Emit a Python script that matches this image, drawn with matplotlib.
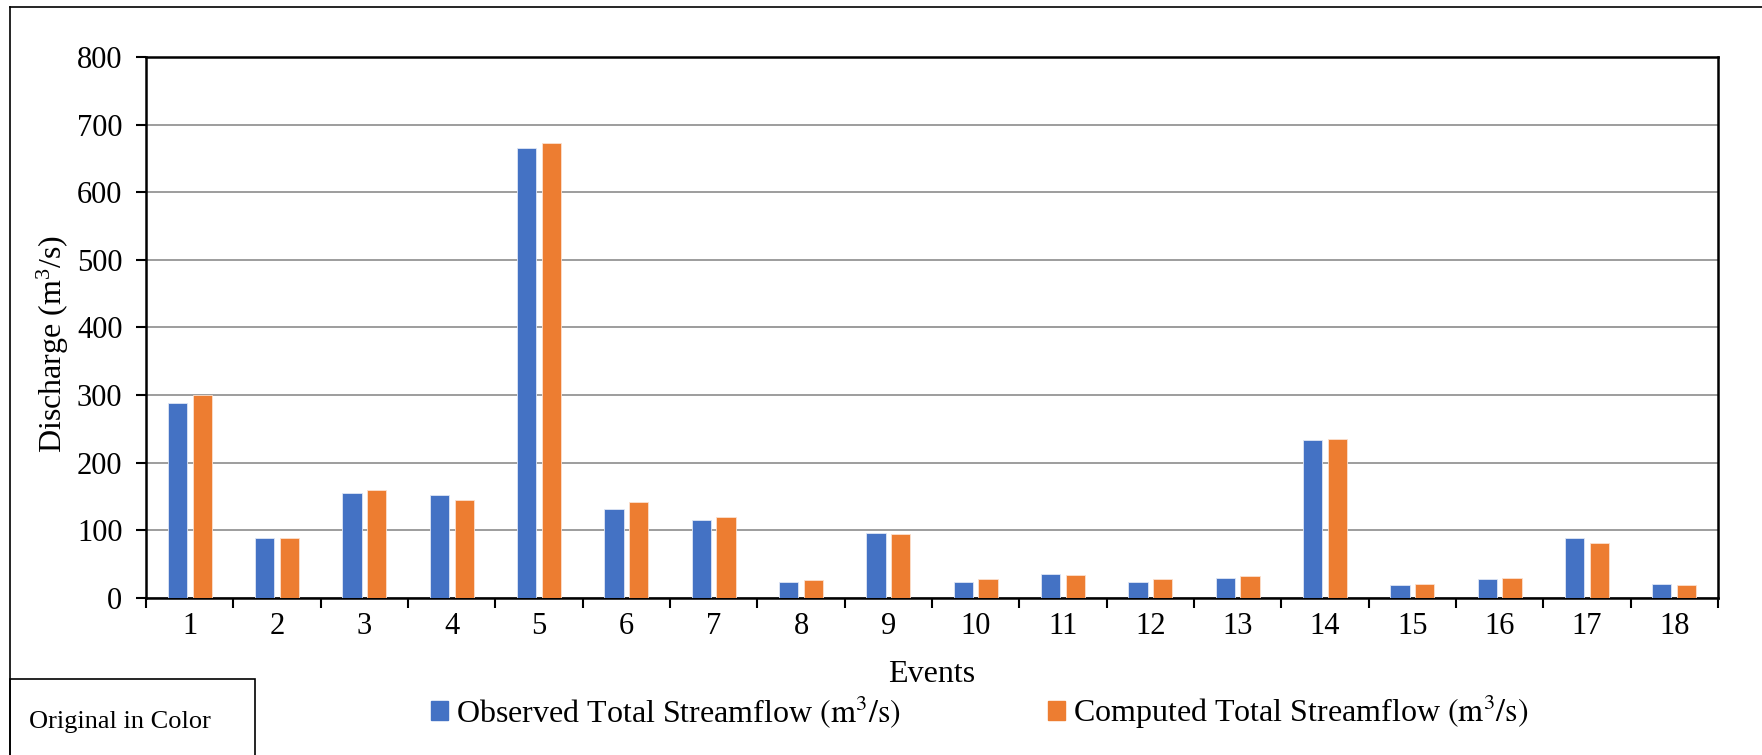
import matplotlib
matplotlib.use("Agg")
import matplotlib.pyplot as plt
import matplotlib.patches as mpatches
from matplotlib.lines import Line2D
import numpy as np

plt.rcParams['font.family'] = ['Liberation Serif', 'DejaVu Serif']
plt.rcParams['mathtext.fontset'] = 'stix'

events = [str(i) for i in range(1, 19)]
observed = [288, 88, 155, 152, 666, 131, 116, 23, 96, 24, 35, 23, 30, 234, 19, 28, 88, 20]
computed = [300, 89, 159, 145, 673, 142, 120, 26, 95, 28, 34, 28, 32, 235, 21, 29, 82, 19]

blue = '#4472C4'
orange = '#ED7D31'
obs_label = r'Observed Total Streamflow $\mathrm{(m^3/s)}$'
comp_label = r'Computed Total Streamflow $\mathrm{(m^3/s)}$'

fig = plt.figure(figsize=(17.62, 7.55), dpi=100)
ax = fig.add_axes([0.0829, 0.208, 0.8921, 0.7165])

x = np.arange(1, len(events) + 1)
w = 0.22
ax.bar(x - 0.142, observed, w, color=blue, edgecolor='#dfe6f5', linewidth=0.6, zorder=3)
ax.bar(x + 0.142, computed, w, color=orange, edgecolor='#fbe0cf', linewidth=0.6, zorder=3)

ax.set_xlim(0.5, len(events) + 0.5)
ax.set_ylim(0, 800)
ax.set_yticks(range(0, 801, 100))
ax.yaxis.grid(True, color='#8c8c8c', linewidth=1.2, zorder=0)
ax.set_axisbelow(True)

# ticks between categories, labels at centers
ax.set_xticks(np.arange(0.5, len(events) + 1, 1.0))
ax.set_xticklabels([])
ax.set_xticks(x, minor=True)
ax.set_xticklabels(events, minor=True)
ax.tick_params(axis='x', which='major', direction='out', length=7, width=1.5)
ax.tick_params(axis='x', which='minor', length=0, pad=10, labelsize=22)
ax.tick_params(axis='y', direction='out', length=7, width=1.5, pad=10, labelsize=22)

for s in ax.spines.values():
    s.set_linewidth(1.8)
    s.set_color('black')

ax.set_xlabel('Events', fontsize=23, labelpad=14)
ax.set_ylabel(r'Discharge (m$\mathregular{^3}$/s)', fontsize=23, labelpad=4)
ax.yaxis.label.set_y(0.47)

handles = [mpatches.Patch(color=blue, label=obs_label),
           mpatches.Patch(color=orange, label=comp_label)]
fig.legend(handles=handles, loc='center', bbox_to_anchor=(0.556, 0.057), ncol=2,
           frameon=False, fontsize=23, handlelength=0.55, handleheight=0.55,
           handletextpad=0.25, columnspacing=4.6)

# outer frame lines and the note box
fig.add_artist(Line2D([0.0057, 1.0], [0.9907, 0.9907], color='black', linewidth=1.2))
fig.add_artist(Line2D([0.0057, 0.0057], [0.0, 0.9907], color='black', linewidth=1.2))
fig.add_artist(mpatches.Rectangle((0.0057, -0.01), 0.139, 0.111, fill=False,
                                  edgecolor='black', linewidth=1.2,
                                  transform=fig.transFigure))
fig.text(0.0165, 0.044, 'Original in Color', fontsize=19, va='center', ha='left')

fig.savefig('out.png', dpi=100)
